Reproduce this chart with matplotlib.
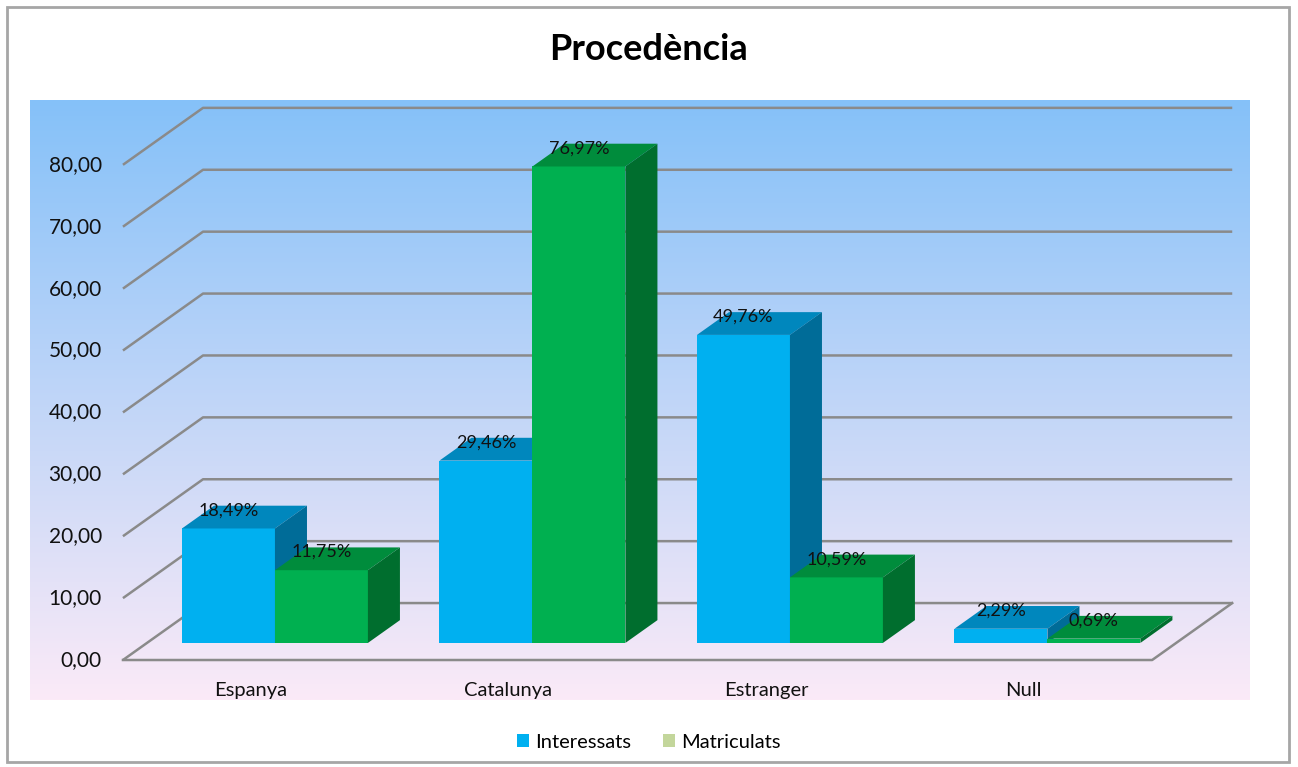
import numpy as np
import matplotlib.pyplot as plt
from matplotlib.patches import Polygon, Rectangle, Patch

plt.rcParams['font.family'] = ['Lato', 'DejaVu Sans']

categories = ['Espanya', 'Catalunya', 'Estranger', 'Null']
interessats = [18.49, 29.46, 49.76, 2.29]
matriculats = [11.75, 76.97, 10.59, 0.69]
yticks = [0, 10, 20, 30, 40, 50, 60, 70, 80]

# colours: front, top, side
blue = ('#00B0F0', '#0087BD', '#006C98')
green = ('#00B050', '#008C3C', '#006E2E')

# pseudo-3d geometry (data units)
DX, DY = 0.311, 9.2       # full depth offset of the back wall
D0, D1 = 0.3, 0.7         # bars sit between these depths
W = 0.361                 # width of one bar
XA, XE = -0.497, 3.5      # floor extent along x

fig = plt.figure(figsize=(12.98, 7.67), dpi=100)
ax = fig.add_axes([30 / 1298, 1 - 700 / 767, 1220 / 1298, 600 / 767])
xlim = (-0.858, 3.880)
ylim = (-6.46, 90.47)
ax.set_xlim(xlim)
ax.set_ylim(ylim)
ax.axis('off')

# gradient background
grad = np.linspace(0, 1, 256)[:, None]
c_top = np.array([0x85, 0xC1, 0xF9]) / 255
c_bot = np.array([0xFB, 0xEA, 0xF7]) / 255
img = c_top[None, None, :] * (1 - grad[:, :, None]) + c_bot[None, None, :] * grad[:, :, None]
ax.imshow(img, extent=[xlim[0], xlim[1], ylim[0], ylim[1]], aspect='auto', zorder=0)

# walls / gridlines
gc = '#8A8A8A'
for v in yticks:
    ax.plot([XA, XA + DX, XE + DX], [v, v + DY, v + DY], color=gc, lw=1.8, zorder=1,
            solid_capstyle='butt')
    ax.text(XA - 0.082, v, f'{v:.2f}'.replace('.', ','), ha='right', va='center',
            fontsize=15, color='#111111')
ax.plot([XA, XE, XE + DX], [0, 0, DY], color=gc, lw=1.8, zorder=1)


def bar3d(xl, v, cols, z):
    s0x, s0y = D0 * DX, D0 * DY
    s1x, s1y = D1 * DX, D1 * DY
    xr = xl + W
    ax.bar(xl + s0x, v, width=W, bottom=s0y, align='edge', color=cols[0],
           lw=0, zorder=z)
    top = [(xl + s0x, v + s0y), (xr + s0x, v + s0y), (xr + s1x, v + s1y), (xl + s1x, v + s1y)]
    side = [(xr + s0x, s0y), (xr + s1x, s1y), (xr + s1x, v + s1y), (xr + s0x, v + s0y)]
    ax.add_patch(Polygon(top, closed=True, fc=cols[1], lw=0, zorder=z))
    ax.add_patch(Polygon(side, closed=True, fc=cols[2], lw=0, zorder=z))


z = 3
for i, (a, b) in enumerate(zip(interessats, matriculats)):
    bar3d(i - W, a, blue, z)
    bar3d(i, b, green, z + 1)
    z += 2
    for xl, v in ((i - W, a), (i, b)):
        ax.text(xl + W / 2 + D0 * DX, v + 0.62 * DY, f'{v:.2f}%'.replace('.', ','),
                ha='center', va='center', fontsize=13, color='#111111', zorder=50)
    ax.text(i, -4.85, categories[i], ha='center', va='center', fontsize=14.5,
            color='#111111')

# title, legend, border
fig.text(0.5, 1 - 50 / 767, 'Procedència', ha='center', va='center',
         fontsize=26, fontweight='bold')
handles = [Patch(fc='#00B0F0', label='Interessats'),
           Patch(fc='#C3D69B', label='Matriculats')]
fig.legend(handles=handles, loc='center', bbox_to_anchor=(0.5, 1 - 742 / 767),
           ncol=2, frameon=False, fontsize=14.5, handlelength=0.6, handleheight=0.6,
           handletextpad=0.3, columnspacing=1.6)
fig.add_artist(Rectangle((7 / 1298, 5 / 767), 1282 / 1298, 755 / 767,
                         transform=fig.transFigure, fill=False, ec='#A6A6A6', lw=2))

fig.savefig('out.png', dpi=100)
